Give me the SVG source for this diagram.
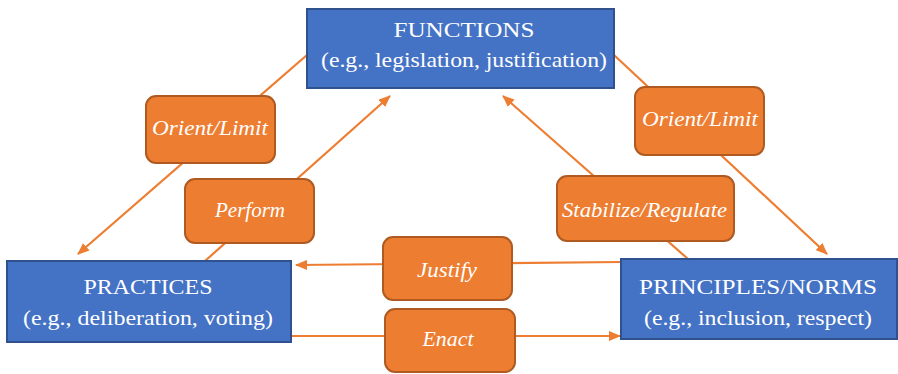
<svg xmlns="http://www.w3.org/2000/svg" width="898" height="374" viewBox="0 0 898 374">
<style>
.node rect{fill:#4472C4;stroke:#2F528F;stroke-width:2}
.lbl rect{fill:#ED7D31;stroke:#AE5A21;stroke-width:2}
.nt{font-family:"Liberation Serif",serif;fill:#fff;font-size:22px;text-anchor:middle}
.lt{font-family:"Liberation Serif",serif;fill:#fff;font-size:20px;font-style:italic;text-anchor:middle}
.conn line{stroke:#ED7D31;stroke-width:2.2;fill:none}
</style>
<defs>
<marker id="ah" viewBox="0 0 12 10" refX="11" refY="5" markerWidth="12" markerHeight="10" markerUnits="userSpaceOnUse" orient="auto">
<path d="M0,0 L12,5 L0,10 z" fill="#ED7D31"/>
</marker>
</defs>
<rect width="898" height="374" fill="#fff"/>
<g id="connectors" class="conn">
<line x1="307" y1="55" x2="78" y2="254" marker-end="url(#ah)"/>
<line x1="205" y1="261" x2="390" y2="96" marker-end="url(#ah)"/>
<line x1="688" y1="259" x2="503" y2="96" marker-end="url(#ah)"/>
<line x1="614" y1="55" x2="827" y2="254" marker-end="url(#ah)"/>
<line x1="621" y1="262" x2="296" y2="265" marker-end="url(#ah)"/>
<line x1="291" y1="336" x2="620" y2="336" marker-end="url(#ah)"/>
</g>
<g id="functions" class="node">
<rect x="307" y="9" width="307" height="79"/>
<text class="nt" x="464" y="37" textLength="141" lengthAdjust="spacingAndGlyphs">FUNCTIONS</text>
<text class="nt" x="464" y="67" textLength="286" lengthAdjust="spacingAndGlyphs">(e.g., legislation, justification)</text>
</g>
<g id="practices" class="node">
<rect x="7" y="261" width="284" height="81"/>
<text class="nt" x="148" y="294" textLength="129" lengthAdjust="spacingAndGlyphs">PRACTICES</text>
<text class="nt" x="148" y="325" textLength="250" lengthAdjust="spacingAndGlyphs">(e.g., deliberation, voting)</text>
</g>
<g id="principles" class="node">
<rect x="621" y="259" width="276" height="80"/>
<text class="nt" x="758" y="294" textLength="238" lengthAdjust="spacingAndGlyphs">PRINCIPLES/NORMS</text>
<text class="nt" x="758" y="325" textLength="228" lengthAdjust="spacingAndGlyphs">(e.g., inclusion, respect)</text>
</g>
<g id="orient-left" class="lbl">
<rect x="146" y="96" width="129" height="67" rx="10"/>
<text class="lt" x="210" y="135" textLength="116" lengthAdjust="spacingAndGlyphs">Orient/Limit</text>
</g>
<g id="perform" class="lbl">
<rect x="185" y="179" width="129" height="64" rx="10"/>
<text class="lt" x="250" y="217" textLength="70" lengthAdjust="spacingAndGlyphs">Perform</text>
</g>
<g id="orient-right" class="lbl">
<rect x="635" y="87" width="129" height="68" rx="10"/>
<text class="lt" x="700" y="126" textLength="116" lengthAdjust="spacingAndGlyphs">Orient/Limit</text>
</g>
<g id="stabilize" class="lbl">
<rect x="557" y="176" width="177" height="65" rx="10"/>
<text class="lt" x="644.5" y="217" textLength="165" lengthAdjust="spacingAndGlyphs">Stabilize/Regulate</text>
</g>
<g id="justify" class="lbl">
<rect x="383" y="237" width="129" height="63" rx="10"/>
<text class="lt" x="447" y="277" textLength="60" lengthAdjust="spacingAndGlyphs">Justify</text>
</g>
<g id="enact" class="lbl">
<rect x="385" y="309" width="130" height="63" rx="10"/>
<text class="lt" x="448" y="346" textLength="51" lengthAdjust="spacingAndGlyphs">Enact</text>
</g>
</svg>
